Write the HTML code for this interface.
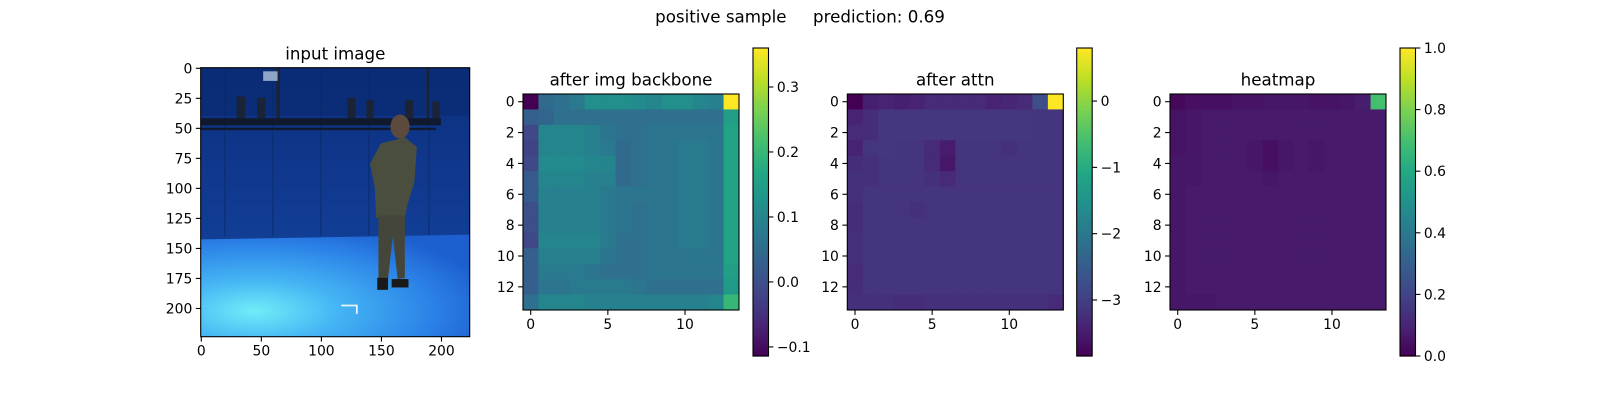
<!DOCTYPE html>
<html><head><meta charset="utf-8"><style>
html,body{margin:0;padding:0;background:#fff;}
svg text{font-family:"DejaVu Sans","Liberation Sans",sans-serif;fill:#000;}
</style></head><body>
<svg id="fig" width="1600" height="400" viewBox="0 0 1600 400" xmlns="http://www.w3.org/2000/svg">
<rect width="1600" height="400" fill="#fff"/>
<text x="800" y="22.5" font-size="16.7" text-anchor="middle" xml:space="preserve">positive sample     prediction: 0.69</text>

<!-- input image panel -->
<g>
<text x="335.3" y="59.4" font-size="16.7" text-anchor="middle">input image</text>
<svg x="200.7" y="67.7" width="269" height="269" viewBox="0 0 224 224" preserveAspectRatio="none">
<defs>
<linearGradient id="curt" x1="0" y1="0" x2="0" y2="1"><stop offset="0" stop-color="#0c2f7e"/><stop offset="1" stop-color="#1546a3"/></linearGradient>
<radialGradient id="floor" cx="0.2" cy="0.75" r="0.9"><stop offset="0" stop-color="#70ecf8"/><stop offset="0.35" stop-color="#44b4f4"/><stop offset="0.75" stop-color="#2a80e6"/><stop offset="1" stop-color="#1d5fcf"/></radialGradient>
</defs>
<rect width="224" height="224" fill="url(#curt)"/>
<rect x="0" y="0" width="224" height="40" fill="#0a2a70" opacity="0.6"/>
<g stroke="#0a2766" stroke-width="1" opacity="0.6"><line x1="20" y1="0" x2="20" y2="140"/><line x1="60" y1="0" x2="60" y2="140"/><line x1="100" y1="0" x2="100" y2="140"/><line x1="140" y1="0" x2="140" y2="140"/><line x1="190" y1="0" x2="190" y2="140"/></g>
<polygon points="0,143 224,139 224,224 0,224" fill="url(#floor)"/>
<rect x="0" y="42" width="200" height="6" fill="#101a2e"/>
<rect x="0" y="50" width="196" height="2" fill="#101a2e"/>
<g fill="#1b2436"><rect x="30" y="24" width="7" height="18"/><rect x="47" y="25" width="7" height="17"/><rect x="122" y="25" width="7" height="17"/><rect x="138" y="27" width="6" height="15"/><rect x="170" y="27" width="7" height="15"/><rect x="193" y="28" width="6" height="14"/><rect x="63" y="0" width="3" height="42"/><rect x="188" y="0" width="2" height="42"/></g>
<rect x="52" y="3" width="12" height="8" fill="#8fa6c8"/>
<g>
<ellipse cx="166" cy="49" rx="8" ry="10" fill="#5c4b3c"/>
<polygon points="150,63 170,58 180,66 178,95 172,115 170,125 146,125 145,100 141,80" fill="#4a4e3f"/>
<polygon points="148,123 170,123 170,175 164,176 160,140 156,176 148,176" fill="#45463a"/>
<rect x="147" y="175" width="9" height="10" fill="#1a1a1a"/>
<rect x="159" y="176" width="14" height="7" fill="#1a1a1a"/>
</g>
<path d="M117,198 H130 V205" stroke="#e8f4ff" stroke-width="1.5" fill="none"/>
</svg>
<rect x="200.7" y="67.7" width="269" height="269" fill="none" stroke="#000" stroke-width="1.1"/>
<g id="imgticks"></g>
</g>

<g id="panels"></g>
</svg>
<script>
const suptitle = "positive sample     prediction: 0.69";
const imgXTicks = [0,50,100,150,200];
const imgYTicks = [0,25,50,75,100,125,150,175,200];
const hmXTicks = [0,5,10];
const hmYTicks = [0,2,4,6,8,10,12];
const backboneTicks = [-0.1,0.0,0.1,0.2,0.3];
const attnTicks = [0,-1,-2,-3];
const heatTicks = [0,0.2,0.4,0.6,0.8,1.0];
const backboneRange = [-0.114,0.360];
const attnRange = [-3.845,0.80];
const heatRange = [0,1];
const backbone = [
[-0.114,0.05,0.06,0.08,0.12,0.12,0.12,0.11,0.10,0.12,0.12,0.10,0.09,0.36],
[0.03,0.04,0.06,0.06,0.06,0.06,0.06,0.06,0.06,0.06,0.06,0.06,0.06,0.15],
[-0.01,0.10,0.10,0.10,0.09,0.07,0.06,0.06,0.07,0.07,0.07,0.07,0.07,0.16],
[-0.02,0.10,0.10,0.10,0.09,0.08,0.05,0.06,0.07,0.07,0.08,0.08,0.07,0.16],
[-0.01,0.11,0.11,0.11,0.10,0.10,0.05,0.06,0.07,0.07,0.08,0.08,0.07,0.16],
[0.02,0.10,0.10,0.10,0.09,0.09,0.05,0.06,0.07,0.07,0.08,0.08,0.07,0.16],
[0.02,0.09,0.09,0.09,0.09,0.08,0.07,0.07,0.07,0.07,0.08,0.08,0.07,0.16],
[0.00,0.09,0.09,0.09,0.09,0.08,0.07,0.06,0.07,0.07,0.08,0.08,0.07,0.16],
[0.00,0.09,0.09,0.09,0.09,0.08,0.07,0.06,0.07,0.07,0.08,0.08,0.07,0.16],
[-0.01,0.10,0.10,0.10,0.10,0.08,0.06,0.06,0.07,0.07,0.08,0.08,0.07,0.16],
[0.03,0.09,0.09,0.09,0.09,0.07,0.06,0.06,0.07,0.07,0.07,0.07,0.07,0.16],
[0.03,0.08,0.08,0.08,0.07,0.06,0.06,0.06,0.07,0.07,0.07,0.07,0.07,0.15],
[0.03,0.07,0.07,0.08,0.08,0.08,0.08,0.07,0.06,0.06,0.06,0.06,0.06,0.14],
[0.06,0.10,0.10,0.10,0.09,0.09,0.09,0.09,0.09,0.09,0.09,0.09,0.10,0.20]];
const attn = [
[-3.845,-3.45,-3.40,-3.45,-3.40,-3.30,-3.30,-3.30,-3.30,-3.40,-3.35,-3.30,-2.75,0.80],
[-3.40,-3.25,-3.10,-3.10,-3.10,-3.10,-3.10,-3.10,-3.10,-3.10,-3.10,-3.10,-3.15,-3.15],
[-3.30,-3.25,-3.10,-3.10,-3.10,-3.10,-3.10,-3.10,-3.10,-3.10,-3.10,-3.10,-3.15,-3.15],
[-3.40,-3.15,-3.10,-3.15,-3.15,-3.30,-3.50,-3.15,-3.15,-3.15,-3.20,-3.15,-3.15,-3.15],
[-3.25,-3.20,-3.15,-3.15,-3.15,-3.30,-3.55,-3.15,-3.15,-3.15,-3.15,-3.15,-3.15,-3.15],
[-3.20,-3.20,-3.15,-3.15,-3.15,-3.20,-3.30,-3.15,-3.15,-3.15,-3.15,-3.15,-3.15,-3.15],
[-3.20,-3.15,-3.15,-3.15,-3.15,-3.15,-3.15,-3.15,-3.15,-3.15,-3.15,-3.15,-3.15,-3.15],
[-3.25,-3.15,-3.15,-3.15,-3.20,-3.15,-3.15,-3.15,-3.15,-3.15,-3.15,-3.15,-3.15,-3.15],
[-3.25,-3.15,-3.15,-3.15,-3.15,-3.15,-3.15,-3.15,-3.15,-3.15,-3.15,-3.15,-3.15,-3.15],
[-3.20,-3.15,-3.15,-3.15,-3.15,-3.15,-3.15,-3.15,-3.15,-3.15,-3.15,-3.15,-3.15,-3.15],
[-3.20,-3.15,-3.15,-3.15,-3.15,-3.15,-3.15,-3.15,-3.15,-3.15,-3.15,-3.15,-3.15,-3.15],
[-3.30,-3.15,-3.15,-3.15,-3.15,-3.15,-3.15,-3.15,-3.15,-3.15,-3.15,-3.15,-3.15,-3.15],
[-3.25,-3.15,-3.15,-3.15,-3.15,-3.15,-3.15,-3.15,-3.15,-3.15,-3.15,-3.15,-3.15,-3.15],
[-3.20,-3.20,-3.20,-3.25,-3.25,-3.20,-3.20,-3.20,-3.20,-3.20,-3.20,-3.20,-3.20,-3.30]];
const heat = [
[0.02,0.04,0.04,0.04,0.05,0.05,0.06,0.06,0.06,0.05,0.05,0.06,0.08,0.70],
[0.05,0.06,0.07,0.07,0.07,0.07,0.07,0.07,0.07,0.07,0.07,0.07,0.07,0.07],
[0.05,0.06,0.07,0.07,0.07,0.07,0.07,0.07,0.07,0.07,0.07,0.07,0.07,0.07],
[0.05,0.06,0.07,0.07,0.07,0.06,0.04,0.06,0.07,0.06,0.07,0.07,0.07,0.07],
[0.06,0.06,0.07,0.07,0.07,0.06,0.04,0.06,0.07,0.06,0.07,0.07,0.07,0.07],
[0.06,0.06,0.07,0.07,0.07,0.07,0.06,0.07,0.07,0.07,0.07,0.07,0.07,0.07],
[0.06,0.07,0.07,0.07,0.07,0.07,0.07,0.07,0.07,0.07,0.07,0.07,0.07,0.07],
[0.06,0.07,0.07,0.07,0.07,0.07,0.07,0.07,0.07,0.07,0.07,0.07,0.07,0.07],
[0.06,0.07,0.07,0.07,0.07,0.07,0.07,0.07,0.07,0.07,0.07,0.07,0.07,0.07],
[0.06,0.07,0.07,0.07,0.07,0.07,0.07,0.07,0.07,0.07,0.07,0.07,0.07,0.07],
[0.06,0.07,0.07,0.07,0.07,0.07,0.07,0.07,0.07,0.07,0.07,0.07,0.07,0.07],
[0.06,0.07,0.07,0.07,0.07,0.07,0.07,0.07,0.07,0.07,0.07,0.07,0.07,0.07],
[0.06,0.07,0.07,0.07,0.07,0.07,0.07,0.07,0.07,0.07,0.07,0.07,0.07,0.07],
[0.06,0.06,0.06,0.07,0.07,0.07,0.07,0.07,0.07,0.07,0.07,0.07,0.07,0.07]];

const NS = "http://www.w3.org/2000/svg";
const VIR = ["#440154","#482475","#414487","#355f8d","#2a788e","#21918c","#22a884","#44bf70","#7ad151","#bddf26","#fde725"];
function hex2rgb(h){return [1,3,5].map(i=>parseInt(h.substr(i,2),16));}
function viridis(t){
  t=Math.max(0,Math.min(1,t));
  const p=t*10, i=Math.min(9,Math.floor(p)), f=p-i;
  const a=hex2rgb(VIR[i]), b=hex2rgb(VIR[i+1]);
  return "rgb("+a.map((v,k)=>Math.round(v+(b[k]-v)*f)).join(",")+")";
}
function mk(tag, attrs, parent){
  const e=document.createElementNS(NS,tag);
  for(const k in attrs) e.setAttribute(k,attrs[k]);
  parent.appendChild(e); return e;
}
const TL=4.9, FS=13.9;
function fmt(v,dec){const s=v.toFixed(dec);return v<0?"\u2212"+s.slice(1):s;}

// image ticks
(function(){
  const g=document.getElementById('imgticks');
  const L=200.7,T=67.7,S=269/224;
  const xs=v=>L+(v+0.5)*S, ys=v=>T+(v+0.5)*S;
  imgXTicks.forEach(v=>{
    const l=mk('line',{x1:xs(v),x2:xs(v),y1:T+269,y2:T+269+TL,stroke:'#000','stroke-width':1.1},g);
    
    
    const t=mk('text',{x:xs(v),y:T+269+TL+3.5+FS*0.76,'font-size':FS,'text-anchor':'middle'},g);
    
    
    t.textContent=v;
  });
  imgYTicks.forEach(v=>{
    const l=mk('line',{x1:L-TL,x2:L,y1:ys(v),y2:ys(v),stroke:'#000','stroke-width':1.1},g);
    
    
    const t=mk('text',{x:L-TL-3.5,y:ys(v)+5,'font-size':FS,'text-anchor':'end'},g);
    
    
    t.textContent=v;
  });
})();

function panel(name,title,data,range,cticks,dec,L,CL){
  const root=document.getElementById('panels');
  const g=mk('g',{},root);
  
  
  const T=94, W=216, n=data.length, cs=W/n;
  const xs=v=>L+(v+0.5)*cs, ys=v=>T+(v+0.5)*cs;
  const norm=v=>(v-range[0])/(range[1]-range[0]);
  const tt=mk('text',{x:L+W/2,y:T-8.3,'font-size':16.7,'text-anchor':'middle'},g);
  
  
  tt.textContent=title;
  data.forEach((row,r)=>row.forEach((v,c)=>{
    const cell=mk('rect',{x:xs(c-0.5),y:ys(r-0.5),width:cs+0.4,height:cs+0.4,fill:viridis(norm(v))},g);
    
    
  }));
  const fr=mk('rect',{x:L,y:T,width:W,height:W,fill:'none',stroke:'#000','stroke-width':1.1},g);
  
  
  hmXTicks.forEach(v=>{
    const l=mk('line',{x1:xs(v),x2:xs(v),y1:T+W,y2:T+W+TL,stroke:'#000','stroke-width':1.1},g);
    
    
    const t=mk('text',{x:xs(v),y:T+W+TL+3.5+FS*0.76,'font-size':FS,'text-anchor':'middle'},g);
    
    
    t.textContent=v;
  });
  hmYTicks.forEach(v=>{
    const l=mk('line',{x1:L-TL,x2:L,y1:ys(v),y2:ys(v),stroke:'#000','stroke-width':1.1},g);
    
    
    const t=mk('text',{x:L-TL-3.5,y:ys(v)+5,'font-size':FS,'text-anchor':'end'},g);
    
    
    t.textContent=v;
  });
  // colorbar
  const CT=48, CB=356, CW=15.5, H=CB-CT;
  const cy=v=>CB-norm(v)*H;
  const steps=120;
  for(let i=0;i<steps;i++){
    const s=mk('rect',{x:CL,y:CB-(i+1)*H/steps,width:CW,height:H/steps+0.6,fill:viridis((i+0.5)/steps)},g);
    
    
  }
  const cf=mk('rect',{x:CL,y:CT,width:CW,height:H,fill:'none',stroke:'#000','stroke-width':1.1},g);
  
  
  cticks.forEach(v=>{
    const l=mk('line',{x1:CL+CW,x2:CL+CW+TL,y1:cy(v),y2:cy(v),stroke:'#000','stroke-width':1.1},g);
    
    
    const t=mk('text',{x:CL+CW+TL+3.5,y:cy(v)+5,'font-size':FS},g);
    
    
    t.textContent=fmt(v,dec);
  });
}
panel('backbone','after img backbone',backbone,backboneRange,backboneTicks,1,523,753);
panel('attn','after attn',attn,attnRange,attnTicks,0,847.3,1076.7);
panel('heatmap','heatmap',heat,heatRange,heatTicks,1,1170,1400);
</script>
</body></html>
